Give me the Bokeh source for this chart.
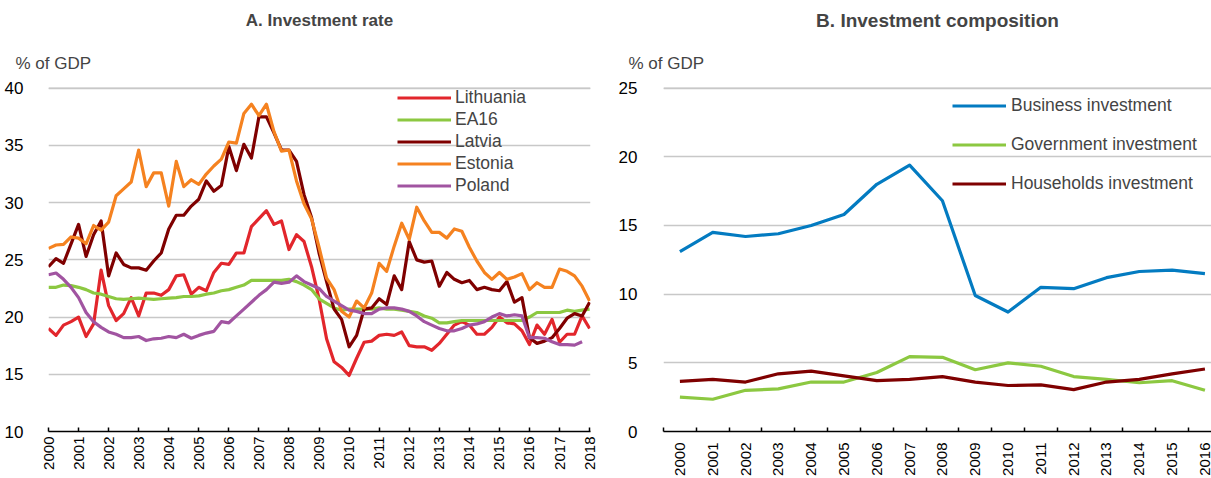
import numpy as np
from bokeh.plotting import figure
from bokeh.layouts import row
from bokeh.models import FixedTicker, Legend, LegendItem, Title, Range1d, Span
from bokeh.embed import file_html
from bokeh.resources import INLINE

# ---------------- Panel A: quarterly investment rate (% of GDP), 2000Q1-2018Q1
start_year = 2000
lithuania = [19.0, 18.4, 19.3, 19.6, 20.0, 18.3, 19.4, 24.1, 21.0, 19.7,
             20.3, 21.7, 20.1, 22.1, 22.1, 21.9, 22.4, 23.6, 23.7, 22.0,
             22.6, 22.3, 23.9, 24.7, 24.6, 25.6, 25.6, 27.9, 28.6, 29.3,
             28.1, 28.4, 25.9, 27.2, 26.6, 24.4, 21.6, 18.1, 16.1, 15.6,
             14.9, 16.4, 17.8, 17.9, 18.4, 18.5, 18.4, 18.7, 17.5, 17.4,
             17.4, 17.1, 17.7, 18.5, 19.3, 19.6, 19.3, 18.5, 18.5, 19.1,
             20.0, 19.5, 19.4, 18.8, 17.6, 19.3, 18.5, 19.8, 17.8, 18.5,
             18.5, 20.1, 19.0]
ea16 = [22.6, 22.6, 22.8, 22.75, 22.6, 22.4, 22.1, 22.0, 21.8, 21.6,
        21.55, 21.6, 21.65, 21.6, 21.55, 21.6, 21.65, 21.7, 21.8, 21.8,
        21.85, 22.0, 22.1, 22.3, 22.4, 22.6, 22.8, 23.2, 23.2, 23.2,
        23.2, 23.2, 23.3, 23.1, 22.8, 22.4, 21.6, 21.2, 20.8, 20.6,
        20.7, 20.7, 20.7, 20.7, 20.8, 20.7, 20.7, 20.6, 20.5, 20.4,
        20.1, 19.9, 19.5, 19.5, 19.6, 19.7, 19.7, 19.7, 19.7, 19.7,
        19.7, 19.7, 19.7, 19.7, 20.0, 20.4, 20.4, 20.4, 20.4, 20.6,
        20.5, 20.6, 20.7]
latvia = [24.4, 25.1, 24.7, 26.4, 28.1, 25.3, 27.2, 28.4, 23.6, 25.6,
          24.6, 24.3, 24.3, 24.1, 24.9, 25.6, 27.7, 28.9, 28.9, 29.7,
          30.3, 31.9, 31.0, 31.5, 34.9, 32.8, 35.1, 33.9, 37.5, 37.5,
          36.1, 34.6, 34.6, 33.6, 30.7, 28.7, 25.6, 23.1, 20.7, 19.8,
          17.4, 18.4, 20.7, 20.8, 21.6, 21.1, 23.6, 22.4, 26.6, 25.0,
          24.8, 24.9, 22.7, 23.9, 23.3, 23.0, 23.2, 22.4, 22.6, 22.4,
          22.3, 23.1, 21.3, 21.7, 18.2, 17.7, 17.9, 18.2, 19.0, 19.9,
          20.3, 20.1, 21.3]
estonia = [26.0, 26.3, 26.35, 27.0, 26.9, 26.4, 28.0, 27.6, 28.3, 30.6,
           31.2, 31.8, 34.6, 31.4, 32.6, 32.6, 29.7, 33.6, 31.4, 32.0,
           31.6, 32.5, 33.2, 33.8, 35.3, 35.2, 37.8, 38.6, 37.6, 38.6,
           36.2, 34.5, 34.6, 31.9, 29.9, 28.6, 26.1, 23.4, 22.4, 20.5,
           20.0, 21.4, 20.8, 22.1, 24.7, 24.0, 26.2, 28.2, 26.8, 29.6,
           28.4, 27.4, 27.4, 26.9, 27.7, 27.5, 26.1, 24.9, 23.9, 23.3,
           23.9, 23.3, 23.5, 23.8, 22.4, 23.0, 22.6, 22.6, 24.2, 24.0,
           23.6, 22.7, 21.4]
poland = [23.7, 23.85, 23.3, 22.6, 21.7, 20.4, 19.6, 19.1, 18.7, 18.5,
          18.2, 18.2, 18.3, 17.95, 18.1, 18.15, 18.3, 18.2, 18.5, 18.15,
          18.4, 18.6, 18.75, 19.6, 19.5, 20.1, 20.7, 21.3, 21.9, 22.4,
          23.05, 22.95, 23.05, 23.6, 23.1, 22.8, 22.5, 21.8, 21.4, 21.0,
          20.6, 20.5, 20.3, 20.3, 20.7, 20.8, 20.8, 20.7, 20.5, 20.1,
          19.6, 19.3, 19.0, 18.8, 18.8, 19.0, 19.3, 19.4, 19.6, 20.0,
          20.3, 20.1, 20.2, 20.1, 18.2, 18.2, 18.15, 17.85, 17.6, 17.6,
          17.55, 17.85]
a_names = ["Lithuania", "EA16", "Latvia", "Estonia", "Poland"]
a_colors = ["#E2262C", "#8CC841", "#7F0000", "#F58220", "#A154A1"]
a_years = list(range(2000, 2019))
a_yticks = [10, 15, 20, 25, 30, 35, 40]

# ---------------- Panel B: annual investment composition (% of GDP), 2000-2016
b_years = [str(y) for y in range(2000, 2017)]
business = [13.1, 14.5, 14.2, 14.4, 15.0, 15.8, 18.0, 19.4, 16.8, 9.9,
            8.7, 10.5, 10.4, 11.2, 11.65, 11.75, 11.5]
government = [2.5, 2.35, 3.0, 3.1, 3.6, 3.6, 4.3, 5.45, 5.4, 4.5,
              5.0, 4.75, 4.0, 3.8, 3.55, 3.7, 3.0]
households = [3.65, 3.8, 3.6, 4.2, 4.4, 4.05, 3.7, 3.8, 4.0, 3.6,
              3.35, 3.4, 3.05, 3.6, 3.8, 4.2, 4.55]
b_names = ["Business investment", "Government investment", "Households investment"]
b_colors = ["#037BC1", "#8CC841", "#7F0000"]
b_yticks = [0, 5, 10, 15, 20, 25]

FONT = "Liberation Sans"
H = 478
GRID = "#C8C8C8"


def base_style(p, yticks, standoff):
    p.outline_line_color = None
    p.xgrid.grid_line_color = None
    p.ygrid.grid_line_color = GRID
    p.ygrid.grid_line_width = 1.5
    p.yaxis.ticker = FixedTicker(ticks=yticks)
    p.yaxis.axis_line_color = None
    p.yaxis.major_tick_line_color = None
    p.yaxis.minor_tick_line_color = None
    p.yaxis.major_label_standoff = standoff
    p.yaxis.major_label_text_font = FONT
    p.yaxis.major_label_text_font_size = "17px"
    p.yaxis.major_label_text_color = "black"
    p.xaxis.axis_line_color = "black"
    p.xaxis.axis_line_width = 1.5
    p.xaxis.major_label_orientation = np.pi / 2
    p.xaxis.major_label_text_font = FONT
    p.xaxis.major_label_text_font_size = "15px"
    p.xaxis.major_label_text_color = "black"
    p.xaxis.major_label_standoff = 5
    # top gridline (at the range edge)
    p.add_layout(Span(location=yticks[-1], dimension="width",
                      line_color=GRID, line_width=1.5))


def add_titles(p, title, offset, size, title_standoff):
    p.add_layout(Title(text="% of GDP", align="left", offset=offset,
                       text_font=FONT, text_font_size="17px",
                       text_font_style="normal", standoff=28), "above")
    p.add_layout(Title(text=title, align="center", text_font=FONT,
                       text_font_size=size, text_font_style="bold",
                       standoff=title_standoff), "above")


# ---------- Panel A
p1 = figure(width=604, height=H, x_range=Range1d(2000, 2018.03),
            y_range=Range1d(10, 40.15), min_border_left=48, min_border_right=14,
            min_border_top=86, min_border_bottom=44, title=None,
            output_backend="svg", toolbar_location=None)
base_style(p1, a_yticks, 19)
p1.xaxis.ticker = FixedTicker(ticks=a_years)
p1.xaxis.major_tick_in = 4
p1.xaxis.major_tick_out = 0
p1.xaxis.major_tick_line_width = 1.5
p1.xaxis.minor_tick_line_color = None
add_titles(p1, "A. Investment rate", -33, "17px", 16)

items = []
for name, col, vals in zip(a_names, a_colors, [lithuania, ea16, latvia, estonia, poland]):
    xs = start_year + 0.25 * np.arange(len(vals))
    r = p1.line(xs, vals, line_color=col, line_width=3.2, line_join="round")
    items.append(LegendItem(label=name, renderers=[r]))
leg1 = Legend(items=items, location=(349, 235), orientation="vertical",
              padding=0, margin=0, spacing=1, glyph_width=54, glyph_height=21,
              label_standoff=4, label_text_font=FONT, label_text_font_size="17.5px",
              label_height=21, border_line_color=None, background_fill_alpha=0)
p1.add_layout(leg1, "center")

# ---------- Panel B
p2 = figure(width=607, height=H, x_range=Range1d(-0.5, 16.2),
            y_range=Range1d(0, 25.12), min_border_left=59, min_border_right=0,
            min_border_top=86, min_border_bottom=44, title=None,
            output_backend="svg", toolbar_location=None)
base_style(p2, b_yticks, 20)
idx = list(range(len(b_years)))
p2.xaxis.ticker = FixedTicker(ticks=idx, minor_ticks=[i - 0.5 for i in range(len(b_years) + 1)])
p2.xaxis.major_label_overrides = {i: y for i, y in zip(idx, b_years)}
p2.xaxis.major_tick_line_color = None
p2.xaxis.minor_tick_line_color = "black"
p2.xaxis.minor_tick_line_width = 1.5
p2.xaxis.minor_tick_in = 4
p2.xaxis.minor_tick_out = 0
add_titles(p2, "B. Investment composition", -35, "19px", 14)

items2 = []
for name, col, vals in zip(b_names, b_colors, [business, government, households]):
    r = p2.line(idx, vals, line_color=col, line_width=3.2, line_join="round")
    items2.append(LegendItem(label=name, renderers=[r]))
leg2 = Legend(items=items2, location=(289, 237), orientation="vertical",
              padding=0, margin=0, spacing=18, glyph_width=54, glyph_height=21,
              label_standoff=5, label_text_font=FONT, label_text_font_size="17.5px",
              label_height=21, border_line_color=None, background_fill_alpha=0)
p2.add_layout(leg2, "center")

layout = row(p1, p2)
open("out.html", "w").write(file_html(layout, INLINE))
